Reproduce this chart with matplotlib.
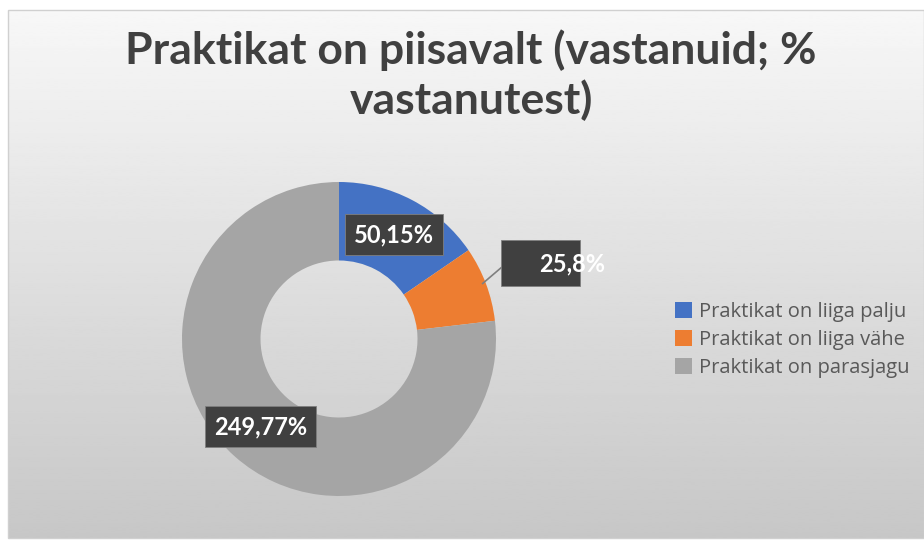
import numpy as np
import matplotlib.pyplot as plt
from matplotlib.patches import Rectangle

title = "Praktikat on piisavalt (vastanuid; %\nvastanutest)"
categories = ["Praktikat on liiga palju", "Praktikat on liiga vähe", "Praktikat on parasjagu"]
counts = [50, 25, 249]
percents = [15, 8, 77]
colors = ["#4472C4", "#ED7D31", "#A5A5A5"]

plt.rcParams['font.family'] = ['Lato', 'DejaVu Sans']

W, H = 924, 541
fig = plt.figure(figsize=(W / 100, H / 100), dpi=100)
ax = fig.add_axes([0, 0, 1, 1])
ax.set_xlim(0, W)
ax.set_ylim(0, H)
ax.axis("off")

# chart area with soft vertical gradient
grad = np.linspace(0.97, 0.78, 256).reshape(-1, 1)
ax.imshow(grad, cmap="gray", vmin=0, vmax=1, extent=(8, W, 3, 531),
          aspect="auto", zorder=0)
ax.add_patch(Rectangle((8, 3), W - 8, 528, fill=False, ec="#d0d0d0", lw=1, zorder=1))

cx, cy, R = 339, 202, 157
wedges, _ = ax.pie(counts, radius=R, center=(cx, cy), startangle=90,
                   counterclock=False, colors=colors,
                   wedgeprops=dict(width=R * 0.5, linewidth=0))
for w in wedges:
    w.set_zorder(2)
ax.set_xlim(0, W)
ax.set_ylim(0, H)

labels = [f"{c},{p}%" for c, p in zip(counts, percents)]
for i, (w, lab) in enumerate(zip(wedges, labels)):
    ang = np.deg2rad((w.theta1 + w.theta2) / 2)
    if i == 1:
        # pushed-out label with leader line, box narrower than text
        r = R * 1.37
        bx, by = cx + r * np.cos(ang), cy + r * np.sin(ang)
        ax.add_patch(Rectangle((bx - 39, by - 23), 79, 46, fc="#404040",
                               ec="#7f7f7f", lw=0.6, zorder=4))
        ax.plot([cx + (R - 3) * np.cos(ang + 0.01), bx - 39],
                [cy + (R - 3) * np.sin(ang + 0.01), by - 4],
                color="#7f7f7f", lw=1.2, zorder=3)
        ax.text(bx + 32, by, lab, color="white", fontsize=17, fontweight="bold",
                ha="center", va="center", zorder=5)
    else:
        r = R * 0.75
        ax.text(cx + r * np.cos(ang), cy + r * np.sin(ang), lab, color="white",
                fontsize=17, fontweight="bold", ha="center", va="center", zorder=5,
                bbox=dict(boxstyle="square,pad=0.38", fc="#404040", ec="#7f7f7f", lw=0.6))

ax.text(471, 466, title, ha="center", va="center", fontsize=32,
        fontweight="bold", color="#404040", linespacing=1.25, zorder=5)

leg = ax.legend(wedges, categories, loc="center left",
                bbox_to_anchor=(667 / W, (H - 340) / H),
                bbox_transform=fig.transFigure, frameon=False,
                prop={"family": "Open Sans", "size": 14.5},
                handlelength=0.85, handleheight=0.85, handletextpad=0.35,
                labelspacing=0.4, borderaxespad=0)
for t in leg.get_texts():
    t.set_color("#595959")

fig.savefig("out.png", dpi=100)
